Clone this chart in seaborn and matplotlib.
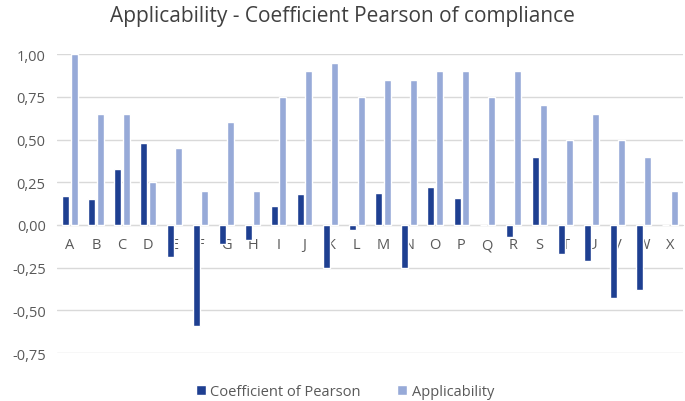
import matplotlib
matplotlib.use('Agg')
import matplotlib.pyplot as plt
import pandas as pd
import seaborn as sb
import numpy as np

categories = list('ABCDEFGHIJKLMNOPQRSTUVWX')
pearson = [0.17, 0.15, 0.33, 0.48, -0.19, -0.59, -0.11, -0.09, 0.11, 0.18, -0.25, -0.03,
           0.19, -0.25, 0.22, 0.16, 0.00, -0.07, 0.40, -0.17, -0.21, -0.43, -0.38, 0.00]
applicability = [1.00, 0.65, 0.65, 0.25, 0.45, 0.20, 0.60, 0.20, 0.75, 0.90, 0.95, 0.75,
                 0.85, 0.85, 0.90, 0.90, 0.75, 0.90, 0.70, 0.50, 0.65, 0.50, 0.40, 0.20]
series = ['Coefficient of Pearson', 'Applicability']
colors = ['#1E3F91', '#97AAD8']
yticks = [1.0, 0.75, 0.5, 0.25, 0.0, -0.25, -0.5, -0.75]

df = pd.DataFrame({'cat': categories * 2,
                   'val': pearson + applicability,
                   'serie': [series[0]] * len(categories) + [series[1]] * len(categories)})

sb.set_style('white')
plt.rcParams['font.family'] = ['Open Sans', 'DejaVu Sans']

fig = plt.figure(figsize=(6.85, 4.02), dpi=100)
ax = fig.add_axes([0.083, 0.119, 0.914, 0.744])
sb.barplot(data=df, x='cat', y='val', hue='serie', palette=colors, saturation=1,
           width=0.64, gap=0.16, ax=ax, legend=True, zorder=3)

ax.set_ylim(-0.75, 1.0)
ax.set_xlim(-0.5, len(categories) - 0.5)
ax.set_yticks(yticks)
ax.set_yticklabels([('%.2f' % t).replace('.', ',') for t in yticks], color='#595959', fontsize=10.5)
ax.yaxis.grid(True, color='#D9D9D9', linewidth=1, zorder=0)
ax.set_axisbelow(True)
for s in ['top', 'right', 'left']:
    ax.spines[s].set_visible(False)
ax.spines['bottom'].set_position(('data', 0))
ax.spines['bottom'].set_color('#D9D9D9')
ax.tick_params(axis='x', length=0, labelsize=10.5, labelcolor='#595959', pad=9)
ax.tick_params(axis='y', length=0, pad=8)
ax.set_xlabel('')
ax.set_ylabel('')

fig.suptitle('Applicability - Coefficient Pearson of compliance', fontsize=15,
             color='#404040', y=0.985)
ax.legend(loc='upper center', bbox_to_anchor=(0.46, -0.06), ncol=2, frameon=False,
          fontsize=10.5, handlelength=0.7, handleheight=0.7, columnspacing=2.5,
          handletextpad=0.3, labelcolor='#595959')

fig.savefig('out.png', dpi=100)
